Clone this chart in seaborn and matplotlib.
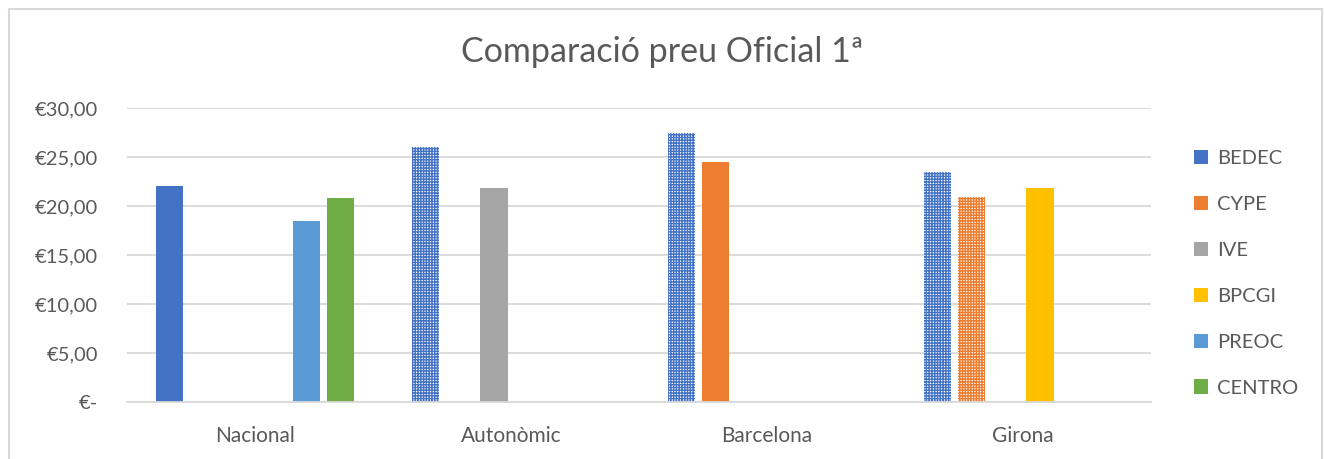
import numpy as np
import pandas as pd
import matplotlib
matplotlib.use("Agg")
import matplotlib.pyplot as plt
from matplotlib.patches import Patch
from matplotlib.lines import Line2D
import seaborn as sns

categories = ["Nacional", "Autonòmic", "Barcelona", "Girona"]
series = ["BEDEC", "CYPE", "IVE", "BPCGI", "PREOC", "CENTRO"]
colors = ["#4472C4", "#ED7D31", "#A5A5A5", "#FFC000", "#5B9BD5", "#70AD47"]

bedec = [22.0, 26.0, 27.5, 23.5]
cype = [np.nan, np.nan, 24.5, 20.9]
ive = [np.nan, 21.8, np.nan, np.nan]
bpcgi = [np.nan, np.nan, np.nan, 21.8]
preoc = [18.5, np.nan, np.nan, np.nan]
centro = [20.8, np.nan, np.nan, np.nan]

# bars shown with a checkered (pattern) fill
hatched = [("Autonòmic", "BEDEC"), ("Barcelona", "BEDEC"),
           ("Girona", "BEDEC"), ("Girona", "CYPE")]

yticks = [0, 5, 10, 15, 20, 25, 30]
ytick_labels = ["€-", "€5,00", "€10,00", "€15,00", "€20,00", "€25,00", "€30,00"]

values = {"BEDEC": bedec, "CYPE": cype, "IVE": ive, "BPCGI": bpcgi,
          "PREOC": preoc, "CENTRO": centro}
rows = []
for s in series:
    for c, v in zip(categories, values[s]):
        rows.append({"cat": c, "serie": s, "val": v})
df = pd.DataFrame(rows)

sns.set_theme(style="white")
plt.rcParams["font.family"] = ["Lato", "DejaVu Sans"]
plt.rcParams["hatch.linewidth"] = 1.0

W, H = 1324, 459
fig = plt.figure(figsize=(W / 100, H / 100), dpi=100)
ax = fig.add_axes([127 / W, 1 - 402 / H, (1151 - 127) / W, (402 - 108) / H])

sns.barplot(data=df, x="cat", y="val", hue="serie", order=categories,
            hue_order=series, palette=colors, width=0.8, gap=0.2,
            ax=ax, legend=False, saturation=1, errorbar=None)

for s, cont in zip(series, ax.containers):
    for bar in cont:
        h = bar.get_height()
        if h is None or np.isnan(h):
            continue
        ci = int(round(bar.get_x() + bar.get_width() / 2))
        bar.set_linewidth(0)
        if (categories[ci], s) in hatched:
            col = colors[series.index(s)]
            bar.set_facecolor("white")
            bar.set_edgecolor(col)
            bar.set_hatch("++++++")

ax.set_ylim(0, 30)
ax.set_xlim(-0.5, 3.5)
ax.set_yticks(yticks)
ax.set_yticklabels(ytick_labels)
ax.yaxis.grid(True, color="#D9D9D9", linewidth=1.3)
ax.set_axisbelow(True)
for sp in ["top", "right", "left"]:
    ax.spines[sp].set_visible(False)
ax.spines["bottom"].set_color("#D9D9D9")
ax.spines["bottom"].set_linewidth(1.3)
ax.set_xlabel("")
ax.set_ylabel("")
ax.tick_params(axis="y", length=0, pad=21, labelsize=14.5, labelcolor="#595959")
ax.tick_params(axis="x", length=0, pad=17, labelsize=15, labelcolor="#595959")

fig.text(0.5, 1 - 52 / H, "Comparació preu Oficial 1ª", ha="center", va="center",
         fontsize=24.5, color="#595959")

handles = [Patch(facecolor=c, edgecolor="none") for c in colors]
fig.legend(handles, series, loc="upper left", bbox_to_anchor=(1194 / W, 1 - 150 / H),
           frameon=False, fontsize=14.5, labelcolor="#595959", handlelength=0.7,
           handleheight=0.7, handletextpad=0.45, labelspacing=1.43, borderpad=0,
           borderaxespad=0)

# outer chart border
bc = "#D9D9D9"
fig.add_artist(Line2D([9 / W, 1322 / W], [1 - 9 / H, 1 - 9 / H], color=bc, lw=1.5))
fig.add_artist(Line2D([9 / W, 9 / W], [0, 1 - 9 / H], color=bc, lw=1.5))
fig.add_artist(Line2D([1322 / W, 1322 / W], [0, 1 - 9 / H], color=bc, lw=1.5))

fig.savefig("out.png", dpi=100)
